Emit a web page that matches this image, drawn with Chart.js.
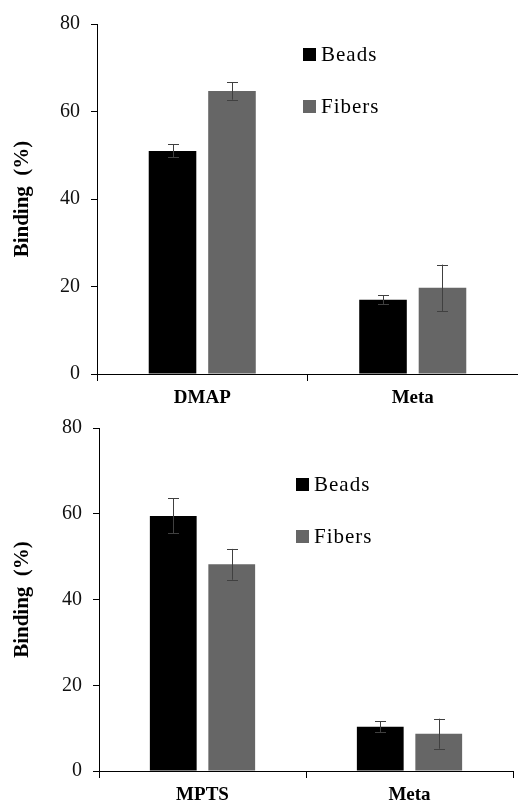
<!DOCTYPE html>
<html>
<head>
<meta charset="utf-8">
<script src="https://cdn.jsdelivr.net/npm/chart.js@4.4.1/dist/chart.umd.min.js"></script>
<style>
  html, body { margin: 0; padding: 0; background: #fff; }
  body { width: 518px; height: 807px; position: relative; overflow: hidden; }
  .box { position: absolute; left: 0; width: 518px; }
  #topBox { top: 0; height: 410px; }
  #bottomBox { top: 405px; height: 402px; }
</style>
</head>
<body>
<div class="box" id="topBox"><canvas id="topChart"></canvas></div>
<div class="box" id="bottomBox"><canvas id="bottomChart"></canvas></div>
<script>
var seriesLabels = ['Beads', 'Fibers'];
var seriesColors = ['#000000', '#666666'];

var topCategories = ['DMAP', 'Meta'];
var topBeads = [51.0, 17.0];
var topFibers = [64.7, 19.7];
var topBeadsErr = [1.5, 1.0];
var topFibersErr = [2.0, 5.3];

var bottomCategories = ['MPTS', 'Meta'];
var bottomBeads = [59.5, 10.3];
var bottomFibers = [48.2, 8.7];
var bottomBeadsErr = [4.1, 1.3];
var bottomFibersErr = [3.6, 3.5];

var yTicks = [0, 20, 40, 60, 80];

var serif = "'Liberation Serif', 'Times New Roman', serif";

// error bars drawn from each bar element and the y scale
var errorBars = {
  id: 'errorBars',
  afterDatasetsDraw: function(chart) {
    var ctx = chart.ctx;
    var yScale = chart.scales.y;
    ctx.save();
    ctx.strokeStyle = '#404040';
    ctx.lineWidth = 1;
    chart.data.datasets.forEach(function(ds, i) {
      var meta = chart.getDatasetMeta(i);
      meta.data.forEach(function(bar, j) {
        var v = ds.data[j], e = ds.errors[j];
        var x = Math.round(bar.x) + 0.5;
        var y1 = yScale.getPixelForValue(v + e);
        var y2 = yScale.getPixelForValue(v - e);
        ctx.beginPath();
        ctx.moveTo(x, y1); ctx.lineTo(x, y2);
        ctx.moveTo(x - 5.5, Math.round(y1) + 0.5); ctx.lineTo(x + 5.5, Math.round(y1) + 0.5);
        ctx.moveTo(x - 5.5, Math.round(y2) + 0.5); ctx.lineTo(x + 5.5, Math.round(y2) + 0.5);
        ctx.stroke();
      });
    });
    ctx.restore();
  }
};

// legend inside the plot area
var boxLegend = {
  id: 'boxLegend',
  afterDraw: function(chart, args, opts) {
    var ctx = chart.ctx;
    var area = chart.chartArea;
    ctx.save();
    ctx.font = '21px ' + serif;
    ctx.letterSpacing = '1px';
    ctx.textBaseline = 'middle';
    chart.data.datasets.forEach(function(ds, i) {
      var x = area.left + opts.dx;
      var y = area.top + opts.dy + i * opts.gap;
      ctx.fillStyle = ds.backgroundColor;
      ctx.fillRect(x, y, 13, 13);
      ctx.fillStyle = '#000';
      ctx.fillText(ds.label, x + 18, y + 7);
    });
    ctx.restore();
  }
};

function makeChart(id, cats, beads, fibers, beadsErr, fibersErr, pad, legendPos, yWidth) {
  return new Chart(document.getElementById(id), {
    type: 'bar',
    data: {
      labels: cats,
      datasets: [
        { label: seriesLabels[0], data: beads, errors: beadsErr, backgroundColor: seriesColors[0] },
        { label: seriesLabels[1], data: fibers, errors: fibersErr, backgroundColor: seriesColors[1] }
      ]
    },
    options: {
      responsive: true,
      maintainAspectRatio: false,
      animation: false,
      layout: { padding: pad },
      datasets: { bar: { categoryPercentage: 0.565, barPercentage: 0.8 } },
      plugins: {
        legend: { display: false },
        tooltip: { enabled: false },
        boxLegend: legendPos
      },
      scales: {
        x: {
          offset: true,
          grid: { offset: true, drawOnChartArea: false, tickLength: 7, color: '#000' },
          border: { color: '#000', width: 1 },
          ticks: { color: '#000', padding: 6, font: { family: serif, size: 19, weight: 'bold' } },
          afterFit: function(s) { s.height = 36; }
        },
        y: {
          min: 0, max: 80,
          afterBuildTicks: function(s) { s.ticks = yTicks.map(function(v) { return { value: v }; }); },
          grid: { drawOnChartArea: false, tickLength: 6, color: '#000' },
          border: { color: '#000', width: 1 },
          ticks: { color: '#111', padding: 11, font: { family: serif, size: 20 } },
          title: {
            display: true, text: 'Binding  (%)', color: '#000',
            padding: { top: 10, bottom: 0 },
            font: { family: serif, size: 21, weight: 'bold' }
          },
          afterFit: function(s) { s.width = yWidth; }
        }
      }
    },
    plugins: [errorBars, boxLegend]
  });
}

makeChart('topChart', topCategories, topBeads, topFibers, topBeadsErr, topFibersErr,
  { top: 24, right: 0, bottom: 0, left: 0 }, { dx: 206, dy: 24, gap: 52 }, 97);
makeChart('bottomChart', bottomCategories, bottomBeads, bottomFibers, bottomBeadsErr, bottomFibersErr,
  { top: 14, right: 5, bottom: 0, left: 0 }, { dx: 197, dy: 50, gap: 52 }, 99);
</script>
</body>
</html>
